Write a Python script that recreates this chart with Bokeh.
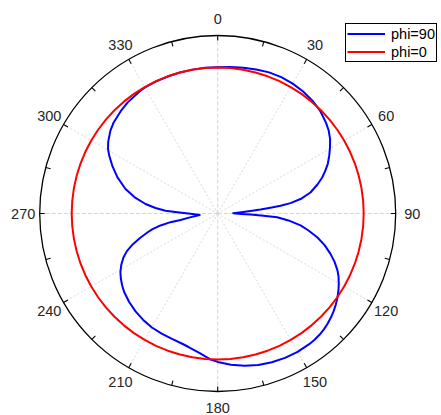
import numpy as np
from bokeh.plotting import figure
from bokeh.models import Legend, LegendItem, Range1d
from bokeh.core.properties import value
from bokeh.embed import file_html
from bokeh.resources import INLINE

# ---------------- data (radial units: outer ring = 178) ----------------
angle_ticks = [0, 30, 60, 90, 120, 150, 180, 210, 240, 270, 300, 330]
angle_labels = ["0", "30", "60", "90", "120", "150", "180", "210", "240", "270", "300", "330"]
minor_ticks = [0, 15, 30, 45, 60, 75, 90, 105, 120, 135, 150, 165, 180,
               195, 210, 225, 240, 255, 270, 285, 300, 315, 330, 345]
r_max = 178.0

phi90_theta = [0, 5, 10, 15, 20, 25, 30, 35, 40, 45, 50, 53.2, 56.5, 59.4, 62.5, 65.7, 68.5,
               71.0, 73.8, 77.25, 80.1, 81.9, 83.0, 83.8, 84.7, 85.6, 86.9, 88.9, 91.0, 91.7,
               92.9, 93.6, 95.6, 98.2, 100.5, 103.4, 106.5, 109.7, 112.5, 115.4, 117.5, 120,
               122.5, 125, 127.5, 130, 132.5, 135, 137.5, 140, 142.5, 145, 150, 155, 160, 165,
               170, 175, 180, 182.5, 185, 187.5, 190, 192.5, 195, 200, 205, 210, 215, 220,
               225, 230, 233, 236, 239, 242, 245, 247.5, 250, 252.5, 255, 256.5, 258.2, 259.6,
               260.2, 262, 265.2, 269.4, 271.8, 273.1, 275.1, 277.5, 280.7, 284.9, 289.8,
               294.1, 298.1, 300.5, 303.3, 307.7, 311.3, 316.4, 321, 327.5, 330, 335, 340,
               345, 350, 355, 360]
phi90_r = [146.3, 147.0, 147.9, 149.1, 150.2, 150.5, 150.0, 148.9, 147.3, 145.0, 141.3, 138.6,
           134.8, 130.5, 125.8, 120.8, 115.5, 110.5, 103.9, 95.1, 84.1, 73.5, 63.3, 53.1, 43.0,
           32.9, 23.8, 15.5, 23.8, 32.8, 45.9, 59.6, 71.1, 83.7, 92.0, 102.3, 111.5, 119.8,
           126.5, 132.6, 136.2, 139.8, 143.2, 146.2, 149.0, 151.5, 153.7, 155.6, 157.2, 158.3,
           159.1, 159.5, 159.7, 159.3, 158.3, 156.8, 154.6, 151.8, 148.4, 146.4, 143.4, 140.6,
           138.4, 136.5, 135.1, 133.5, 132.6, 131.6, 129.9, 127.8, 125.2, 122.1, 119.6, 116.8,
           113.5, 109.2, 104.0, 98.3, 90.5, 81.5, 72.5, 67.0, 58.4, 48.0, 37.8, 28.0, 18.0,
           27.2, 40.5, 52.3, 62.4, 72.8, 83.6, 95.4, 106.5, 115.2, 123.0, 127.3, 131.0, 135.6,
           138.3, 140.9, 143.0, 145.0, 145.5, 145.7, 145.8, 146.0, 146.1, 146.2, 146.3]

phi0_theta = [0, 5, 10, 15, 20, 25, 30, 35, 40, 45, 50, 55, 60, 65, 70, 75, 80, 85, 90, 95,
              100, 105, 110, 115, 120, 125, 130, 135, 140, 145, 150, 155, 160, 165, 170, 175,
              180, 185, 190, 195, 200, 205, 210, 215, 220, 225, 230, 235, 240, 245, 250, 255,
              260, 265, 270, 275, 280, 285, 290, 295, 300, 305, 310, 315, 320, 325, 330, 335,
              340, 345, 350, 355, 360]
phi0_r = [146.0, 146.0, 146.0, 146.0, 146.0, 146.0, 146.0, 146.0, 146.0, 146.0, 146.0, 146.0,
          146.0, 146.0, 146.0, 146.0, 146.0, 146.0, 146.0, 146.0, 146.0, 146.0, 146.0, 146.0,
          146.0, 146.0, 146.0, 146.0, 146.0, 146.0, 146.0, 146.0, 146.0, 146.0, 146.0, 146.0,
          146.0, 146.0, 146.0, 146.0, 146.0, 146.0, 146.0, 146.0, 146.0, 146.0, 146.0, 146.0,
          146.0, 146.0, 146.0, 146.0, 146.0, 146.0, 146.0, 146.0, 146.0, 146.0, 146.0, 146.0,
          146.0, 146.0, 146.0, 146.0, 146.0, 146.0, 146.0, 146.0, 146.0, 146.0, 146.0, 146.0,
          146.0]

# ---------------- helpers ----------------
def polar(theta_deg, r):
    t = np.radians(np.asarray(theta_deg, dtype=float))
    r = np.asarray(r, dtype=float)
    return r * np.sin(t), r * np.cos(t)   # 0 at top, clockwise

W, H = 441, 415
cx, cy = 217.2, 213.0      # pole position in page pixels (from top-left)
scale = 1.0                # pixels per radial unit

p = figure(width=W, height=H, output_backend="svg", toolbar_location=None,
           x_axis_location=None, y_axis_location=None,
           x_range=Range1d(-cx / scale, (W - cx) / scale),
           y_range=Range1d(-(H - cy) / scale, cy / scale),
           min_border=0, outline_line_color=None)
p.grid.visible = False
p.background_fill_color = "white"
p.border_fill_color = "white"

# spokes
main_sp = [a for a in angle_ticks if a % 90 == 0]
oth_sp = [a for a in angle_ticks if a % 90 != 0]
x1, y1 = polar(main_sp, [r_max] * len(main_sp))
p.segment(x0=[0] * len(main_sp), y0=[0] * len(main_sp), x1=x1, y1=y1,
          line_color="#d4d4d4", line_width=1, line_dash="4 2")
x1, y1 = polar(oth_sp, [r_max] * len(oth_sp))
p.segment(x0=[0] * len(oth_sp), y0=[0] * len(oth_sp), x1=x1, y1=y1,
          line_color="#d9d9d9", line_width=1, line_dash="2 2")

# outer ring
p.circle(x=[0], y=[0], radius=r_max, fill_color=None, line_color="black", line_width=1.3)

# inward ticks every 15 degrees
tx0, ty0 = polar(minor_ticks, [r_max] * len(minor_ticks))
tx1, ty1 = polar(minor_ticks, [r_max - 5.0] * len(minor_ticks))
p.segment(x0=tx0, y0=ty0, x1=tx1, y1=ty1, line_color="black", line_width=1.1)

# angle labels
lx, ly = polar(angle_ticks, [r_max + 16.5] * len(angle_ticks))
p.text(x=lx, y=ly, text=angle_labels, text_align="center", text_baseline="middle",
       text_font=value("Liberation Sans"), text_font_size="14.5px", text_color="#262626")

# series
bx, by = polar(phi90_theta, phi90_r)
rx, ry = polar(phi0_theta, phi0_r)
blue = p.line(x=bx, y=by, line_color="#0000ff", line_width=2.0, line_join="round")
red = p.line(x=rx, y=ry, line_color="#ff0000", line_width=2.0, line_join="round")

legend = Legend(items=[LegendItem(label="phi=90", renderers=[blue]),
                       LegendItem(label="phi=0", renderers=[red])],
                location=(345, 353), orientation="vertical",
                border_line_color="black", border_line_width=1, border_line_alpha=1,
                background_fill_color="white", background_fill_alpha=1,
                label_text_font="Liberation Sans", label_text_font_size="14.5px",
                label_text_color="#000000",
                glyph_width=38, glyph_height=17, label_height=17, label_standoff=6,
                spacing=1, padding=1, margin=0)
p.add_layout(legend)

open("out.html", "w").write(file_html(p, INLINE))
